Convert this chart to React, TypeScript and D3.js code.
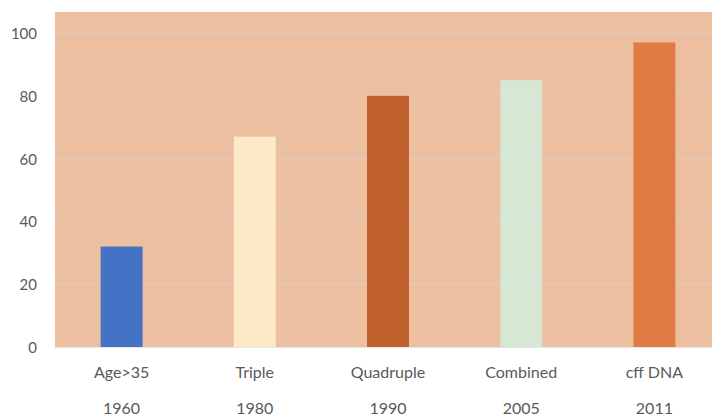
import React from "react";
import * as d3 from "d3";

const categories = ["Age>35", "Triple", "Quadruple", "Combined", "cff DNA"];
const years = ["1960", "1980", "1990", "2005", "2011"];
const values = [32, 67, 80, 85, 97];
const barColors = ["#4472c4", "#fbe9c7", "#c0602c", "#d6e7d4", "#e17b43"];
const yTicks = [0, 20, 40, 60, 80, 100];

const W = 712;
const H = 418;
const plot = { left: 55, right: 721, top: 12, bottom: 347 };

export default function App() {
  const x = d3
    .scaleBand<string>()
    .domain(categories)
    .range([plot.left, plot.right])
    .paddingInner(0.685)
    .paddingOuter(0.3425);
  const y = d3.scaleLinear().domain([0, 100]).range([plot.bottom, plot.bottom - 314]);
  const font = "Lato, 'Open Sans', sans-serif";

  return (
    <svg
      width={W}
      height={H}
      style={{ position: "absolute", left: 0, top: 0, background: "#ffffff" }}
    >
      <rect
        x={plot.left}
        y={plot.top}
        width={W - plot.left}
        height={plot.bottom - plot.top}
        fill="#ecbfa1"
      />
      {yTicks.map((t) => (
        <g key={t}>
          {t > 0 && (
            <line
              x1={plot.left}
              x2={W}
              y1={y(t)}
              y2={y(t)}
              stroke="#e5c6b4"
              strokeWidth={2}
            />
          )}
          <text
            x={37}
            y={y(t)}
            textAnchor="end"
            dominantBaseline="central"
            fontFamily={font}
            fontSize={15}
            fill="#595959"
          >
            {t}
          </text>
        </g>
      ))}
      {categories.map((c, i) => (
        <rect
          key={c}
          x={x(c)}
          y={y(values[i])}
          width={x.bandwidth()}
          height={y(0) - y(values[i])}
          fill={barColors[i]}
        />
      ))}
      <line
        x1={plot.left}
        x2={W}
        y1={plot.bottom + 0.5}
        y2={plot.bottom + 0.5}
        stroke="#e6e6e6"
        strokeWidth={1}
      />
      {categories.map((c, i) => (
        <g key={c + "lbl"}>
          <text
            x={(x(c) as number) + x.bandwidth() / 2}
            y={371}
            textAnchor="middle"
            dominantBaseline="central"
            fontFamily={font}
            fontSize={16}
            fill="#595959"
          >
            {c}
          </text>
          <text
            x={(x(c) as number) + x.bandwidth() / 2}
            y={407}
            textAnchor="middle"
            dominantBaseline="central"
            fontFamily={font}
            fontSize={16}
            fill="#595959"
          >
            {years[i]}
          </text>
        </g>
      ))}
    </svg>
  );
}
